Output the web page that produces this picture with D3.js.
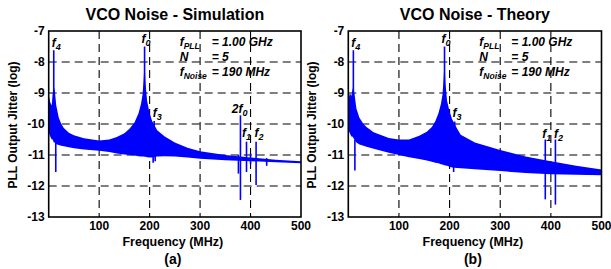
<!DOCTYPE html>
<html>
<head>
<meta charset="utf-8">
<script src="https://cdn.jsdelivr.net/npm/d3@7"></script>
<style>
  body { margin: 0; background: #fff; }
  text { font-family: "Liberation Sans", Arial, sans-serif; font-weight: bold; fill: #000; }
</style>
</head>
<body>
<svg id="chart" width="611" height="269"></svg>
<script>
// ---- data ----
const xTicks = [100, 200, 300, 400, 500];
const yTicks = [-7, -8, -9, -10, -11, -12, -13];
const gridX = [100, 200, 300, 400];
const gridY = [-8, -9, -10, -11, -12];

// simulation: envelope of the dense noise band
const simFreq = [0.5, 3, 6, 8, 10, 12, 15, 20, 25, 30, 40, 50, 70, 100, 120, 135, 150, 160, 170, 178, 183, 186, 188, 190, 192, 195, 200, 205, 215, 230, 250, 275, 300, 350, 400, 450, 500];
const simHigh = [-9.1, -9.3, -9.4, -9.0, -8.8, -8.9, -9.4, -9.8, -10.0, -10.13, -10.28, -10.36, -10.46, -10.53, -10.5, -10.42, -10.3, -10.15, -9.95, -9.65, -9.35, -9.05, -8.6, -8.0, -8.7, -9.25, -9.65, -9.9, -10.2, -10.4, -10.6, -10.77, -10.88, -11.0, -11.08, -11.15, -11.2];
const simLow  = [-10.3, -10.4, -10.5, -10.5, -10.6, -10.6, -10.65, -10.68, -10.7, -10.72, -10.75, -10.78, -10.82, -10.86, -10.9, -10.95, -10.98, -11.0, -11.02, -11.04, -11.05, -11.05, -11.05, -11.06, -11.06, -11.07, -11.08, -11.08, -11.05, -11.04, -11.05, -11.08, -11.12, -11.17, -11.2, -11.23, -11.27];
const simSpikeFreq   = [10, 14, 190, 207, 209, 211, 376, 380, 392, 400, 411, 432];
const simSpikeTop    = [-7.62, -10.6, -7.5, -11.0, -9.9, -11.0, -11.0, -9.72, -10.57, -10.95, -10.57, -11.1];
const simSpikeBottom = [-10.4, -11.55, -10.8, -11.25, -10.5, -11.2, -11.6, -12.45, -11.55, -11.3, -11.97, -11.35];
const simLabelMain = ["f", "f", "f", "2f", "f", "f"];
const simLabelSub  = ["4", "0", "3", "0", "1", "2"];
const simLabelFreq = [6, 184, 206, 363, 383, 408];
const simLabelVal  = [-7.52, -7.39, -9.77, -9.65, -10.42, -10.42];

// theory
const thFreq = [0.5, 3, 6, 8, 10, 12, 16, 22, 30, 36, 50, 80, 100, 120, 140, 155, 165, 172, 178, 183, 186, 188, 190, 192, 195, 200, 205, 215, 222, 250, 300, 350, 400, 450, 500];
const thHigh = [-9.2, -9.0, -9.1, -8.9, -8.8, -9.0, -9.5, -9.8, -10.0, -10.1, -10.27, -10.45, -10.5, -10.5, -10.38, -10.25, -10.1, -9.9, -9.65, -9.35, -9.05, -8.6, -8.0, -8.7, -9.25, -9.6, -9.85, -10.15, -10.35, -10.6, -10.84, -11.05, -11.2, -11.35, -11.47];
const thLow  = [-10.2, -10.3, -10.4, -10.4, -10.45, -10.5, -10.6, -10.66, -10.7, -10.73, -10.8, -10.93, -11.0, -11.07, -11.13, -11.18, -11.22, -11.25, -11.27, -11.3, -11.31, -11.32, -11.33, -11.34, -11.35, -11.38, -11.4, -11.42, -11.43, -11.46, -11.52, -11.58, -11.62, -11.64, -11.65];
const thSpikeFreq   = [10, 13, 190, 208, 210, 389, 409];
const thSpikeTop    = [-7.62, -10.5, -7.5, -11.2, -9.92, -10.5, -10.5];
const thSpikeBottom = [-10.3, -11.5, -11.0, -11.55, -10.6, -12.43, -12.6];
const thLabelMain = ["f", "f", "f", "f", "f"];
const thLabelSub  = ["4", "0", "3", "1", "2"];
const thLabelFreq = [6, 184, 206, 383, 406];
const thLabelVal  = [-7.52, -7.39, -9.77, -10.45, -10.45];

const infoMain  = ["f", "N", "f"];
const infoSub   = ["PLL", "", "Noise"];
const infoValue = ["= 1.00 GHz", "= 5", "= 190 MHz"];

const svg = d3.select('#chart');

function drawPanel(opt) {
  const x = d3.scaleLinear().domain([0, 500]).range([opt.left, opt.right]);
  const y = d3.scaleLinear().domain([-7, -13]).range([31, 217]);
  const g = svg.append('g');

  // title
  g.append('text')
    .attr('x', (opt.left + opt.right) / 2).attr('y', 20)
    .attr('text-anchor', 'middle').style('font-size', '16px')
    .text(opt.title);

  // grid
  g.selectAll('.gx').data(gridX).join('line')
    .attr('x1', d => x(d)).attr('x2', d => x(d))
    .attr('y1', y(-7)).attr('y2', y(-13))
    .attr('stroke', '#000').attr('stroke-width', 1.1).attr('stroke-dasharray', '8,5');
  g.selectAll('.gy').data(gridY).join('line')
    .attr('x1', x(0)).attr('x2', x(500))
    .attr('y1', d => y(d)).attr('y2', d => y(d))
    .attr('stroke', '#000').attr('stroke-width', 1.1).attr('stroke-dasharray', '8,5');

  // noise band
  const band = opt.freq.map((f, i) => ({f: f, hi: opt.high[i], lo: opt.low[i]}));
  g.append('path').datum(band)
    .attr('fill', '#0000ff')
    .attr('d', d3.area().x(d => x(d.f)).y0(d => y(d.lo)).y1(d => y(d.hi)));

  // spikes
  g.selectAll('.spike').data(opt.spikeFreq).join('line')
    .attr('x1', d => x(d)).attr('x2', d => x(d))
    .attr('y1', (d, i) => y(opt.spikeTop[i]))
    .attr('y2', (d, i) => y(opt.spikeBottom[i]))
    .attr('stroke', '#0000ff').attr('stroke-width', 1.6);

  // frame
  g.append('rect')
    .attr('x', x(0)).attr('y', y(-7))
    .attr('width', x(500) - x(0)).attr('height', y(-13) - y(-7))
    .attr('fill', 'none').attr('stroke', '#000').attr('stroke-width', 1.6);

  // y tick labels
  g.selectAll('.yt').data(yTicks).join('text')
    .attr('x', x(0) - 4).attr('y', d => y(d) + 4.3)
    .attr('text-anchor', 'end').style('font-size', '12px')
    .text(d => d);
  // x tick labels
  g.selectAll('.xt').data(xTicks).join('text')
    .attr('x', d => x(d)).attr('y', 230)
    .attr('text-anchor', 'middle').style('font-size', '12px')
    .text(d => d);

  g.append('text')
    .attr('x', (opt.left + opt.right) / 2 - 2).attr('y', 245.5)
    .attr('text-anchor', 'middle').style('font-size', '12.5px')
    .text('Frequency (MHz)');
  g.append('text')
    .attr('x', (opt.left + opt.right) / 2 - 2).attr('y', 264)
    .attr('text-anchor', 'middle').style('font-size', '14px')
    .text(opt.tag);

  g.append('text')
    .attr('transform', 'translate(' + (opt.left - 32) + ',125) rotate(-90)')
    .attr('text-anchor', 'middle').style('font-size', '12px')
    .text('PLL Output Jitter (log)');

  // peak labels
  opt.labelMain.forEach((m, i) => {
    const t = g.append('text')
      .attr('x', x(opt.labelFreq[i])).attr('y', y(opt.labelVal[i]))
      .style('font-size', '12px').style('font-style', 'italic');
    t.append('tspan').text(m);
    t.append('tspan').attr('dy', 3).style('font-size', '9px').text(opt.labelSub[i]);
  });

  // info box
  infoMain.forEach((m, i) => {
    const by = 46 + i * 15;
    const t = g.append('text')
      .attr('x', x(0) + 131).attr('y', by)
      .style('font-size', '12px').style('font-style', 'italic');
    t.append('tspan').text(m);
    if (infoSub[i]) t.append('tspan').attr('dy', 3).style('font-size', '8.5px').text(infoSub[i]);
    g.append('text')
      .attr('x', x(0) + 163).attr('y', by)
      .style('font-size', '12px').style('font-style', 'italic')
      .text(infoValue[i]);
  });
}

drawPanel({
  left: 48.7, right: 301, title: 'VCO Noise - Simulation', tag: '(a)',
  freq: simFreq, high: simHigh, low: simLow,
  spikeFreq: simSpikeFreq, spikeTop: simSpikeTop, spikeBottom: simSpikeBottom,
  labelMain: simLabelMain, labelSub: simLabelSub, labelFreq: simLabelFreq, labelVal: simLabelVal
});
drawPanel({
  left: 348.3, right: 601.5, title: 'VCO Noise - Theory', tag: '(b)',
  freq: thFreq, high: thHigh, low: thLow,
  spikeFreq: thSpikeFreq, spikeTop: thSpikeTop, spikeBottom: thSpikeBottom,
  labelMain: thLabelMain, labelSub: thLabelSub, labelFreq: thLabelFreq, labelVal: thLabelVal
});
</script>
</body>
</html>
